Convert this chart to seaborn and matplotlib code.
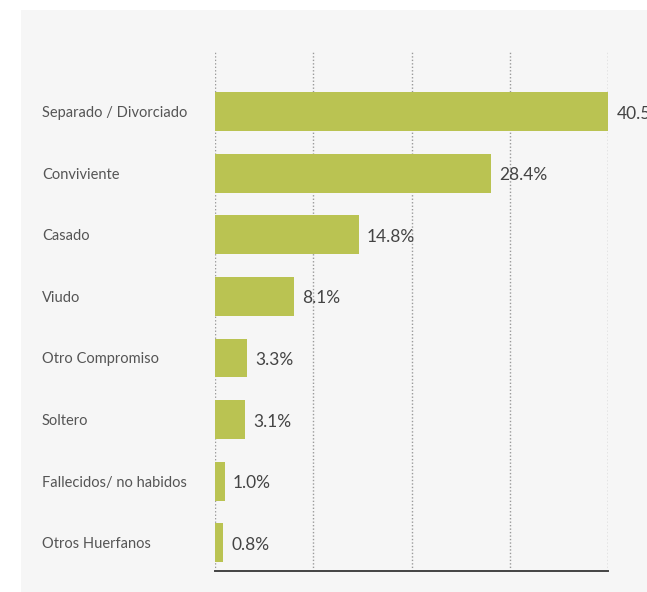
import matplotlib
matplotlib.use("Agg")
import matplotlib.pyplot as plt
import numpy as np
import seaborn as sns
from matplotlib.patches import Rectangle

categories = [
    "Separado / Divorciado",
    "Conviviente",
    "Casado",
    "Viudo",
    "Otro Compromiso",
    "Soltero",
    "Fallecidos/ no habidos",
    "Otros Huerfanos",
]
values = [40.5, 28.4, 14.8, 8.1, 3.3, 3.1, 1.0, 0.8]
value_labels = ["40.5%", "28.4%", "14.8%", "8.1%", "3.3%", "3.1%", "1.0%", "0.8%"]

sns.set_theme(style="white")
plt.rcParams["font.family"] = ["Lato", "DejaVu Sans"]

BAR = "#bac352"
PANEL = "#f6f6f6"

fig = plt.figure(figsize=(6.47, 5.92), dpi=100, facecolor="white")
# light grey card behind the chart
fig.patches.append(Rectangle((21 / 647, 0), 1, 1 - 10 / 592,
                             transform=fig.transFigure, facecolor=PANEL,
                             edgecolor="none", zorder=-10))

ax = fig.add_axes([215 / 647, 1 - 571 / 592, (608 - 215) / 647, (571 - 52) / 592])
ax.set_facecolor("none")

sns.barplot(x=values, y=categories, color=BAR, saturation=1, width=0.63,
            orient="h", ax=ax, zorder=3, linewidth=0)

xmax = max(values)
ax.set_xlim(0, xmax)
ax.set_ylim(7.46, -0.97)
# four equal divisions of the value axis
ax.set_xticks(np.linspace(0, xmax, 5))
ax.set_xticklabels([])
ax.tick_params(axis="x", length=0)
ax.grid(axis="x", color="#9a9a9a", lw=1.0, ls=(0, (1, 1.5)), zorder=1)
ax.set_axisbelow(True)

for s in ["top", "right", "left"]:
    ax.spines[s].set_visible(False)
ax.spines["bottom"].set_color("#444444")
ax.spines["bottom"].set_linewidth(1.4)

ax.tick_params(axis="y", length=0, pad=(215 - 42) * 0.72, labelsize=10.5,
               labelcolor="#555555")
for lbl in ax.get_yticklabels():
    lbl.set_horizontalalignment("left")

for i, (v, txt) in enumerate(zip(values, value_labels)):
    ax.annotate(txt, xy=(v, i), xytext=(6, -1.5), textcoords="offset points",
                va="center", ha="left", fontsize=12.5, color="#444444",
                annotation_clip=False, zorder=4)

ax.set_xlabel("")
ax.set_ylabel("")

fig.savefig("out.png", dpi=100, facecolor="white")
